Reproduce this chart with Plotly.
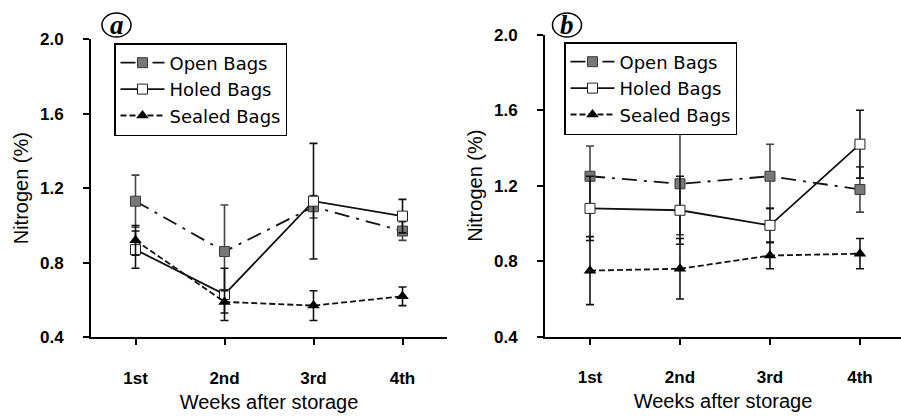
import plotly.graph_objects as go

weeks = ["1st", "2nd", "3rd", "4th"]

a_open = [1.13, 0.86, 1.10, 0.97]
a_open_err = [0.14, 0.25, 0.06, 0.05]
a_holed = [0.87, 0.63, 1.13, 1.05]
a_holed_err = [0.10, 0.14, 0.31, 0.09]
a_sealed = [0.92, 0.59, 0.57, 0.62]
a_sealed_err = [0.08, 0.06, 0.08, 0.05]

b_open = [1.25, 1.21, 1.25, 1.18]
b_open_err = [0.16, 0.27, 0.17, 0.12]
b_holed = [1.08, 1.07, 0.99, 1.42]
b_holed_err = [0.17, 0.18, 0.09, 0.18]
b_sealed = [0.75, 0.76, 0.83, 0.84]
b_sealed_err = [0.18, 0.16, 0.07, 0.08]

y_ticks = [0.4, 0.8, 1.2, 1.6, 2.0]
y_tick_text = ["0.4", "0.8", "1.2", "1.6", "2.0"]

series_names = ["Open Bags", "Holed Bags", "Sealed Bags"]

fig = go.Figure()

def add_panel(xa, ya, legend, op, ope, ho, hoe, se, see):
    fig.add_trace(go.Scatter(
        x=weeks, y=op, name=series_names[0], mode="lines+markers",
        xaxis=xa, yaxis=ya, legend=legend,
        line=dict(color="#111111", width=1.8, dash="15px,7px,3px,7px"),
        marker=dict(symbol="square", size=10, color="#777777",
                    line=dict(color="#3a3a3a", width=1)),
        error_y=dict(type="data", array=ope, visible=True, color="#444444",
                     thickness=1.6, width=4),
    ))
    fig.add_trace(go.Scatter(
        x=weeks, y=ho, name=series_names[1], mode="lines+markers",
        xaxis=xa, yaxis=ya, legend=legend,
        line=dict(color="#111111", width=1.8),
        marker=dict(symbol="square", size=10, color="white",
                    line=dict(color="#222222", width=1)),
        error_y=dict(type="data", array=hoe, visible=True, color="#111111",
                     thickness=1.6, width=4),
    ))
    fig.add_trace(go.Scatter(
        x=weeks, y=se, name=series_names[2], mode="lines+markers",
        xaxis=xa, yaxis=ya, legend=legend,
        line=dict(color="#111111", width=1.8, dash="6px,3px"),
        marker=dict(symbol="triangle-up", size=11, color="black"),
        error_y=dict(type="data", array=see, visible=True, color="#111111",
                     thickness=1.6, width=4),
    ))

add_panel("x", "y", "legend", a_open, a_open_err, a_holed, a_holed_err, a_sealed, a_sealed_err)
add_panel("x2", "y2", "legend2", b_open, b_open_err, b_holed, b_holed_err, b_sealed, b_sealed_err)

W, H = 901, 419

axis_common = dict(showline=True, linecolor="black", linewidth=2, ticks="outside",
                   ticklen=6, tickwidth=2, tickcolor="black", showgrid=False,
                   zeroline=False)

xcommon = dict(axis_common, tickfont=dict(family="Liberation Sans", size=17, color="black", weight="bold"),
               ticklabelstandoff=18,
               title=dict(text="Weeks after storage", font=dict(family="Liberation Sans", size=20, color="black"),
                          standoff=8))
ycommon = dict(axis_common, range=[0.4, 2.0], tickvals=y_ticks, ticktext=y_tick_text,
               tickfont=dict(family="Liberation Sans", size=17, color="black", weight="bold"),
               ticklabelstandoff=16,
               title=dict(text="Nitrogen (%)", font=dict(family="Liberation Sans", size=20, color="black"),
                          standoff=6))

legend_common = dict(xanchor="left", yanchor="top", bordercolor="black", borderwidth=1.5,
                     bgcolor="white", font=dict(family="DejaVu Sans", size=18, color="black"),
                     tracegroupgap=0, itemwidth=44)

fig.update_layout(
    width=W, height=H,
    margin=dict(l=0, r=0, t=0, b=0, autoexpand=False),
    paper_bgcolor="white", plot_bgcolor="white",
    xaxis=dict(xcommon, domain=[91 / W, 447 / W], range=[-0.5, 3.5], anchor="y"),
    yaxis=dict(ycommon, domain=[1 - 337.3 / H, 1 - 39 / H], anchor="x"),
    xaxis2=dict(xcommon, domain=[545 / W, 1.0], range=[-0.5, 3.456], anchor="y2"),
    yaxis2=dict(ycommon, domain=[1 - 336.7 / H, 1 - 34.7 / H], anchor="x2"),
    legend=dict(legend_common, x=114 / W, y=1 - 43 / H),
    legend2=dict(legend_common, x=564 / W, y=1 - 42 / H),
    showlegend=True,
)

# circled panel labels
for cx, label in [(116.5, "a"), (567, "b")]:
    fig.add_shape(type="circle", xref="paper", yref="paper",
                  x0=(cx - 14.5) / W, x1=(cx + 14.5) / W,
                  y0=1 - 37 / H, y1=1 - 13 / H,
                  line=dict(color="black", width=1.5))
    fig.add_annotation(x=cx / W, y=1 - 25 / H, xref="paper", yref="paper",
                       text="<b><i>" + label + "</i></b>", showarrow=False,
                       font=dict(family="Liberation Serif", size=27, color="black"),
                       xanchor="center", yanchor="middle")

fig.write_html("out.html", config={"displayModeBar": False},
               post_script="document.body.style.margin='0';document.body.style.overflow='hidden';")
